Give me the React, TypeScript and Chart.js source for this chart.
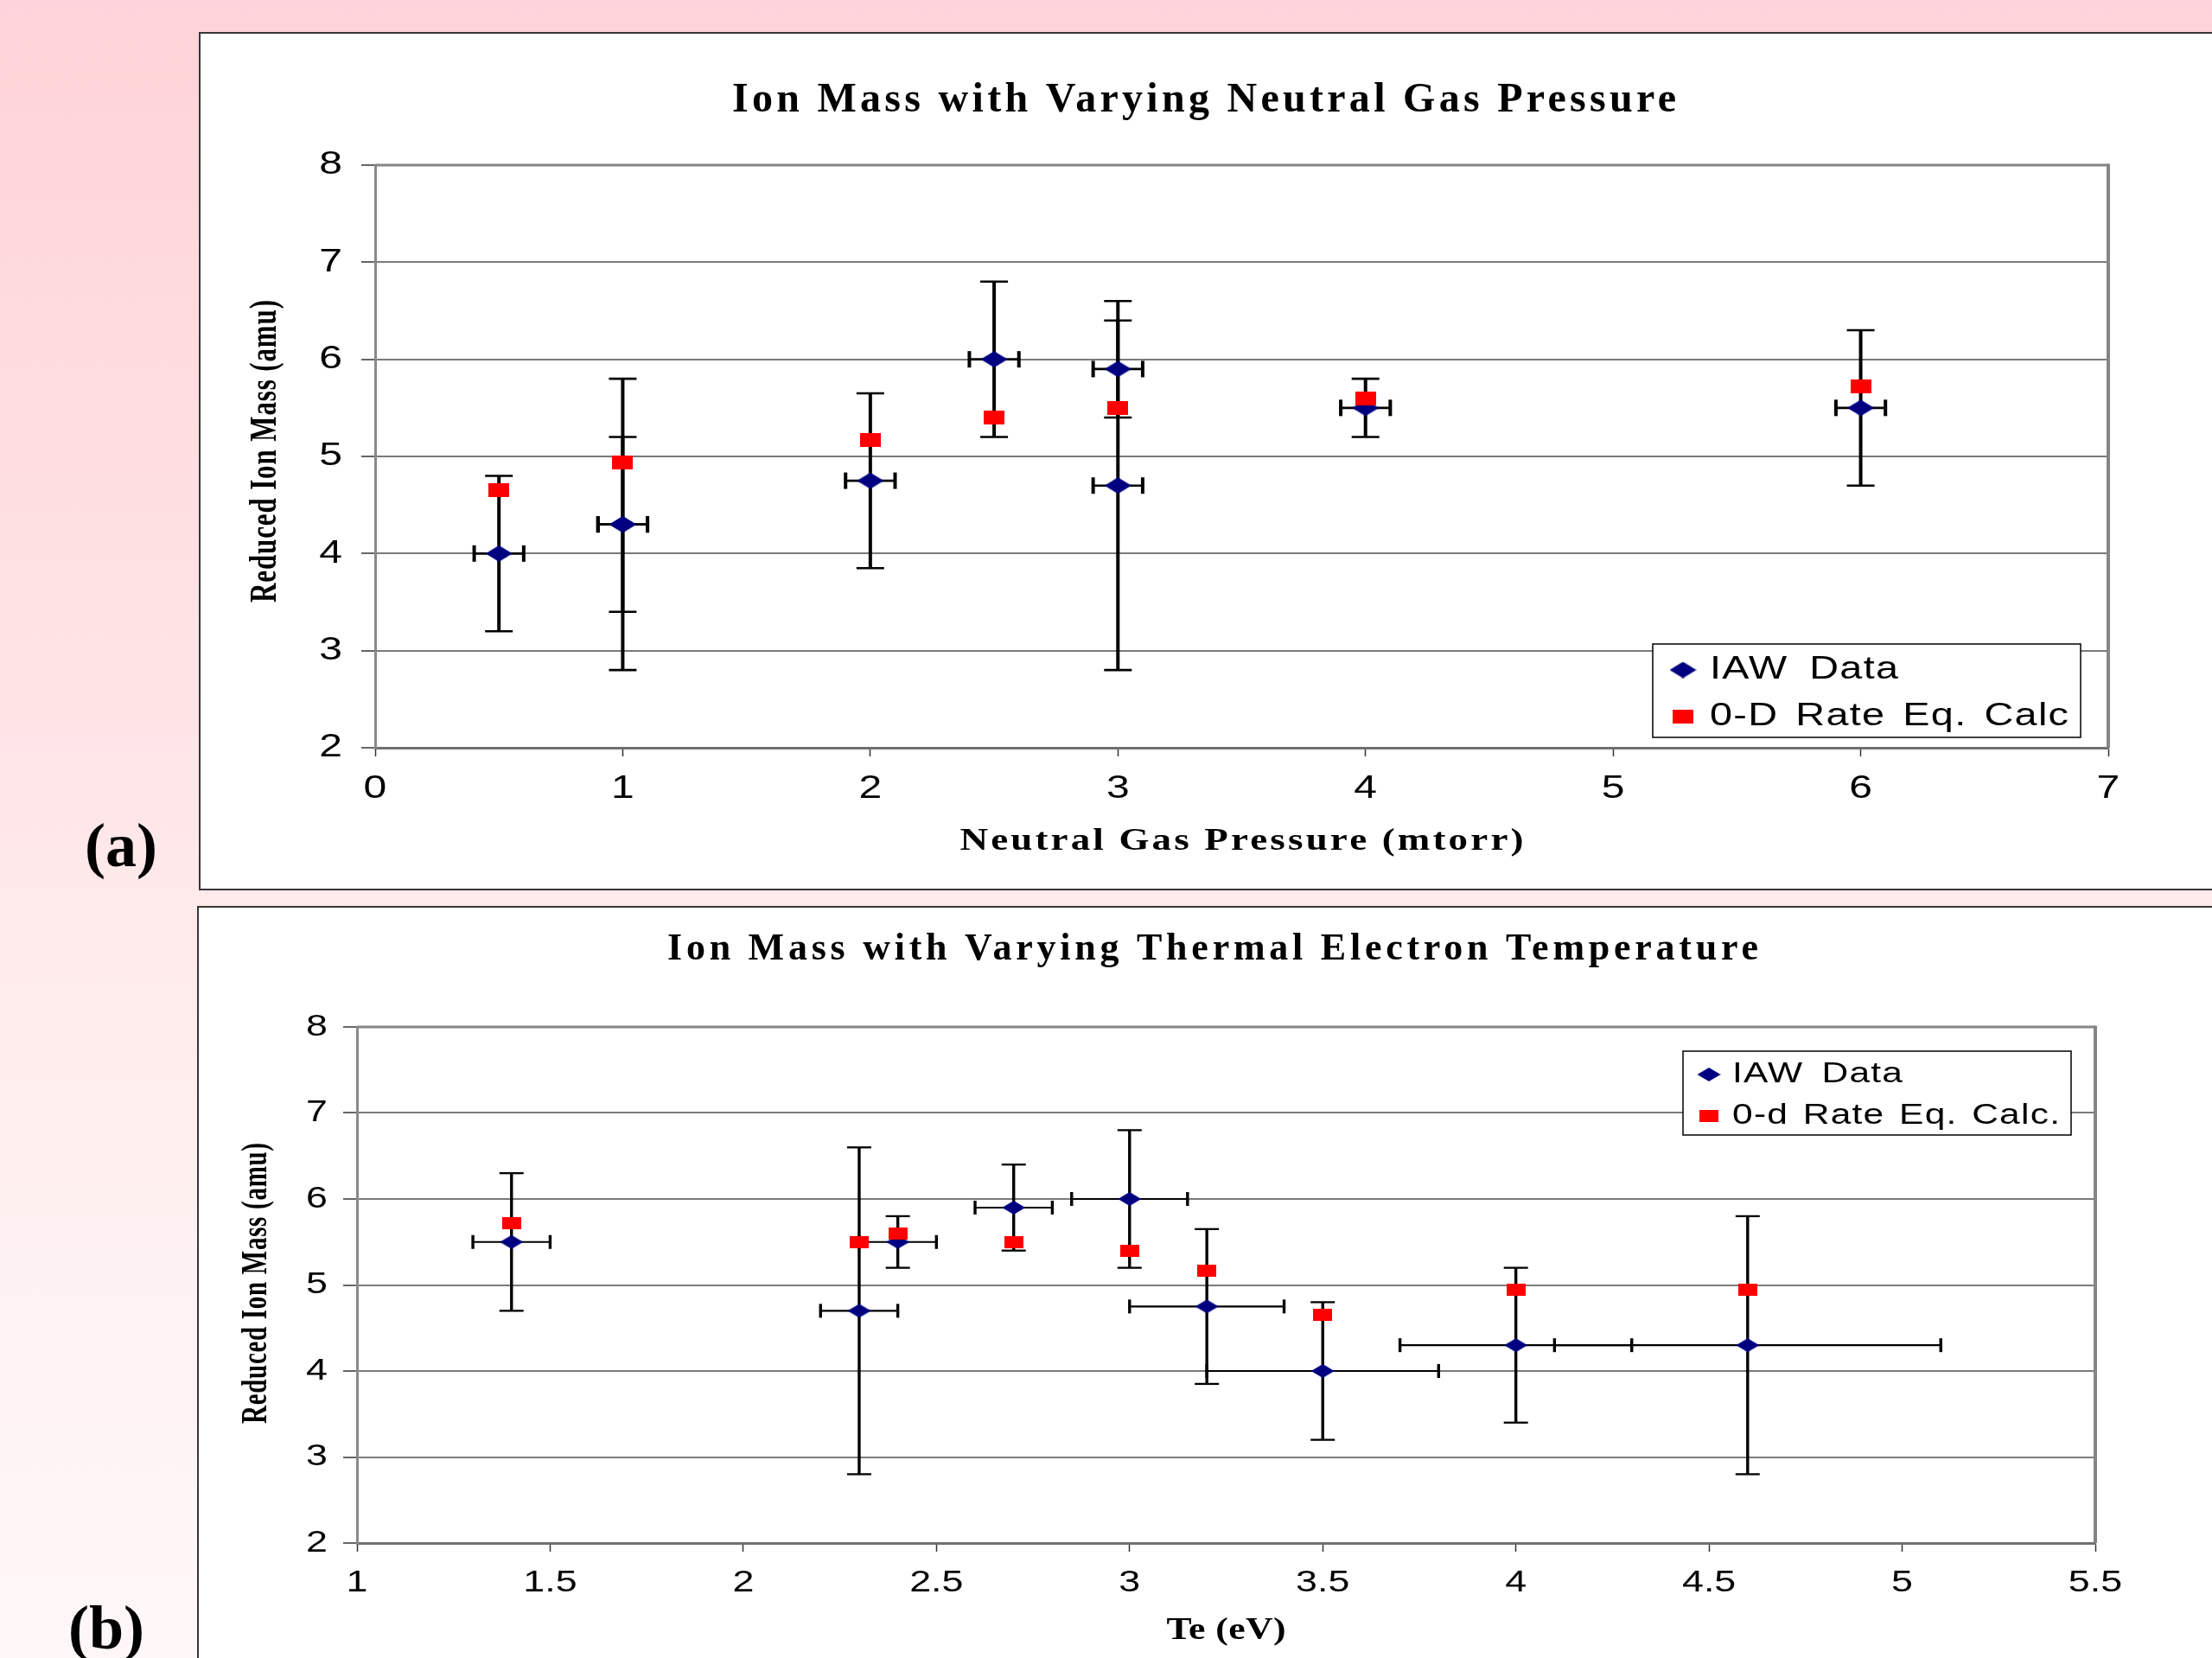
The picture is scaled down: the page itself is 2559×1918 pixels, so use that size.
import React, { useEffect, useRef } from 'react';
import { Chart, registerables } from 'chart.js';

Chart.register(...registerables);

// ---------- data: chart (a) ----------
const PRESSURE = [0.5, 1, 1, 2, 2.5, 3, 3, 4, 6];
const PRESSURE_ERR = [0.1, 0.1, 0.1, 0.1, 0.1, 0.1, 0.1, 0.1, 0.1];
const IAW_A = [4.0, 4.3, 4.3, 4.75, 6.0, 5.9, 4.7, 5.5, 5.5];
const IAW_A_ERR = [0.8, 1.5, 0.9, 0.9, 0.8, 0.5, 1.9, 0.3, 0.8];
const CALC_A = [4.65, 4.94, 4.94, 5.17, 5.4, 5.5, 5.5, 5.6, 5.72];
const X_TICKS_A = ['0', '1', '2', '3', '4', '5', '6', '7'];

// ---------- data: chart (b) ----------
const TE = [1.4, 2.3, 2.4, 2.7, 3.0, 3.2, 3.5, 4.0, 4.6];
const TE_ERR = [0.1, 0.1, 0.1, 0.1, 0.15, 0.2, 0.3, 0.3, 0.5];
const IAW_B = [5.5, 4.7, 5.5, 5.9, 6.0, 4.75, 4.0, 4.3, 4.3];
const IAW_B_ERR = [0.8, 1.9, 0.3, 0.5, 0.8, 0.9, 0.8, 0.9, 1.5];
const CALC_B = [5.72, 5.5, 5.6, 5.5, 5.4, 5.17, 4.65, 4.94, 4.94];
const X_TICKS_B = ['1', '1.5', '2', '2.5', '3', '3.5', '4', '4.5', '5', '5.5'];

const Y_TICKS = ['2', '3', '4', '5', '6', '7', '8'];

const TITLE_A = 'Ion Mass with Varying Neutral Gas Pressure';
const TITLE_B = 'Ion Mass with Varying Thermal Electron Temperature';
const X_TITLE_A = 'Neutral Gas Pressure (mtorr)';
const X_TITLE_B = 'Te (eV)';
const Y_TITLE = 'Reduced Ion Mass (amu)';
const LEGEND_A = ['IAW Data', '0-D Rate Eq. Calc'];
const LEGEND_B = ['IAW Data', '0-d Rate Eq. Calc.'];

const NAVY = '#000080';
const RED = '#ff0000';

type TextOpt = {
  font: string;
  sx?: number;
  width?: number;
  align?: 'left' | 'center' | 'right';
  baseline?: CanvasTextBaseline;
  rotate?: boolean;
  color?: string;
  wordFit?: boolean;
  ls?: number;
};

function drawText(ctx: CanvasRenderingContext2D, text: string, x: number, y: number, o: TextOpt) {
  ctx.save();
  ctx.font = o.font;
  ctx.fillStyle = o.color ?? '#000';
  ctx.textAlign = 'left';
  ctx.textBaseline = o.baseline ?? 'alphabetic';
  const c = ctx as any;
  const hasLS = 'letterSpacing' in c;
  if (hasLS) c.letterSpacing = '0px';
  if ('wordSpacing' in c) c.wordSpacing = '0px';
  const w0 = ctx.measureText(text).width;
  const chars = Array.from(text);
  const n = chars.length;
  const nSp = chars.filter((ch) => ch === ' ').length;
  const sx = o.sx ?? 1;
  let ls = 0;
  let ws = 0;
  if (o.width && n > 1 && hasLS) {
    if (o.wordFit && nSp > 0 && 'wordSpacing' in c) {
      ls = o.ls ?? 0;
      ws = (o.width / sx - w0 - ls * (n - 1)) / nSp;
      c.letterSpacing = ls + 'px';
      c.wordSpacing = ws + 'px';
    } else {
      ls = o.rotate ? (o.width - w0) / (n - 1) : (o.width / sx - w0) / (n - 1);
      c.letterSpacing = ls + 'px';
    }
  }
  const total = w0 + ls * (n - 1) + ws * nSp;
  const u0 = o.align === 'center' ? -total / 2 : o.align === 'right' ? -total : 0;
  ctx.translate(x, y);
  ctx.scale(sx, 1);
  if (o.rotate) ctx.rotate(-Math.PI / 2);
  ctx.fillText(text, u0, 0);
  ctx.restore();
}

function makeDiamond(w: number, h: number, color: string) {
  const c = document.createElement('canvas');
  c.width = w;
  c.height = h;
  const g = c.getContext('2d')!;
  g.fillStyle = color;
  g.beginPath();
  g.moveTo(w / 2, 0);
  g.lineTo(w, h / 2);
  g.lineTo(w / 2, h);
  g.lineTo(0, h / 2);
  g.closePath();
  g.fill();
  return c;
}

function makeRect(w: number, h: number, color: string) {
  const c = document.createElement('canvas');
  c.width = w;
  c.height = h;
  const g = c.getContext('2d')!;
  g.fillStyle = color;
  g.fillRect(0, 0, w, h);
  return c;
}

type Spec = {
  xVals: number[];
  xErr: number[];
  iaw: number[];
  iawErr: number[];
  calc: number[];
  xMin: number;
  xMax: number;
  xStep: number;
  xTicks: string[];
  title: string;
  xTitle: string;
  legend: string[];
  canvas: { left: number; top: number; width: number; height: number };
  padding: { left: number; right: number; top: number; bottom: number };
  diamond: [number, number];
  square: [number, number];
  eb: { vW: number; vCapW: number; vCap: number; hW: number; hCapW: number; hCap: number };
  titleText: { font: string; width: number; dx: number; dy: number };
  xTitleText: { font: string; width: number; sx: number; dy: number };
  yTitleText: { font: string; width: number; sx: number; dx: number; dy: number };
  tick: { font: string; sx: number; xDy: number; yDx: number };
  lg: {
    x: number; y: number; w: number; h: number;
    markX: number; textX: number; rowY: [number, number];
    font: string; sx: number; ls: number; widths: [number, number];
  };
};

const SPEC_A: Spec = {
  xVals: PRESSURE,
  xErr: PRESSURE_ERR,
  iaw: IAW_A,
  iawErr: IAW_A_ERR,
  calc: CALC_A,
  xMin: 0,
  xMax: 7,
  xStep: 1,
  xTicks: X_TICKS_A,
  title: TITLE_A,
  xTitle: X_TITLE_A,
  legend: LEGEND_A,
  canvas: { left: 232, top: 39, width: 2327, height: 989 },
  padding: { left: 142, right: 120, top: 152, bottom: 123 },
  diamond: [31, 19],
  square: [24, 16],
  eb: { vW: 4, vCapW: 2.6, vCap: 16, hW: 2.6, hCapW: 4, hCap: 9.5 },
  titleText: { font: 'bold 48px "Liberation Serif"', width: 1092, dx: 959, dy: -62 },
  xTitleText: { font: 'bold 36px "Liberation Serif"', width: 652, sx: 1.25, dy: 118 },
  yTitleText: { font: 'bold 31px "Liberation Serif"', width: 350, sx: 1.45, dx: -127, dy: -6 },
  tick: { font: '37px "Liberation Sans"', sx: 1.3, xDy: 48, yDx: 38 },
  lg: {
    x: 1478, y: 554, w: 495, h: 108,
    markX: 1513, textX: 1544, rowY: [584, 638],
    font: '36px "Liberation Sans"', sx: 1.3, ls: 1, widths: [218, 415],
  },
};

const SPEC_B: Spec = {
  xVals: TE,
  xErr: TE_ERR,
  iaw: IAW_B,
  iawErr: IAW_B_ERR,
  calc: CALC_B,
  xMin: 1,
  xMax: 5.5,
  xStep: 0.5,
  xTicks: X_TICKS_B,
  title: TITLE_B,
  xTitle: X_TITLE_B,
  legend: LEGEND_B,
  canvas: { left: 230, top: 1050, width: 2329, height: 868 },
  padding: { left: 123, right: 135, top: 138, bottom: 93 },
  diamond: [27, 16],
  square: [22, 14],
  eb: { vW: 3.4, vCapW: 2.3, vCap: 14, hW: 2.1, hCapW: 3.4, hCap: 8 },
  titleText: { font: 'bold 44px "Liberation Serif"', width: 1262, dx: 990, dy: -78 },
  xTitleText: { font: 'bold 35px "Liberation Serif"', width: 138, sx: 1.25, dy: 111 },
  yTitleText: { font: 'bold 29px "Liberation Serif"', width: 325, sx: 1.45, dx: -116, dy: -2 },
  tick: { font: '35px "Liberation Sans"', sx: 1.28, xDy: 46, yDx: 34 },
  lg: {
    x: 1534, y: 28, w: 449, h: 97,
    markX: 1564, textX: 1591, rowY: [55, 103],
    font: '34px "Liberation Sans"', sx: 1.25, ls: 1, widths: [197, 379],
  },
};

function line(ctx: CanvasRenderingContext2D, x1: number, y1: number, x2: number, y2: number) {
  ctx.beginPath();
  ctx.moveTo(x1, y1);
  ctx.lineTo(x2, y2);
  ctx.stroke();
}

function makeDecor(spec: Spec, dia: HTMLCanvasElement, sq: HTMLCanvasElement) {
  return {
    id: 'decor',
    beforeDatasetsDraw(chart: any) {
      const ctx: CanvasRenderingContext2D = chart.ctx;
      const area = chart.chartArea;
      const xs = chart.scales.x;
      const ys = chart.scales.y;
      ctx.save();
      // plot area top and right border
      ctx.strokeStyle = '#858585';
      ctx.lineWidth = 3;
      line(ctx, area.left, area.top, area.right, area.top);
      ctx.lineWidth = 4;
      line(ctx, area.right, area.top - 1.5, area.right, area.bottom);
      // error bars
      const eb = spec.eb;
      ctx.strokeStyle = '#000';
      ctx.lineCap = 'butt';
      spec.xVals.forEach((xv, i) => {
        const yv = spec.iaw[i];
        const px = xs.getPixelForValue(xv);
        const py = ys.getPixelForValue(yv);
        const yHi = ys.getPixelForValue(yv + spec.iawErr[i]);
        const yLo = ys.getPixelForValue(yv - spec.iawErr[i]);
        const xL = xs.getPixelForValue(xv - spec.xErr[i]);
        const xR = xs.getPixelForValue(xv + spec.xErr[i]);
        ctx.lineWidth = eb.vW;
        line(ctx, px, yHi, px, yLo);
        ctx.lineWidth = eb.vCapW;
        line(ctx, px - eb.vCap, yHi, px + eb.vCap, yHi);
        line(ctx, px - eb.vCap, yLo, px + eb.vCap, yLo);
        ctx.lineWidth = eb.hW;
        line(ctx, xL, py, xR, py);
        ctx.lineWidth = eb.hCapW;
        line(ctx, xL, py - eb.hCap, xL, py + eb.hCap);
        line(ctx, xR, py - eb.hCap, xR, py + eb.hCap);
      });
      ctx.restore();
    },
    afterDraw(chart: any) {
      const ctx: CanvasRenderingContext2D = chart.ctx;
      const area = chart.chartArea;
      const xs = chart.scales.x;
      const ys = chart.scales.y;
      // tick labels
      xs.ticks.forEach((t: any, i: number) => {
        drawText(ctx, String(t.label), xs.getPixelForTick(i), area.bottom + spec.tick.xDy, {
          font: spec.tick.font, sx: spec.tick.sx, align: 'center', baseline: 'middle',
        });
      });
      ys.ticks.forEach((t: any, i: number) => {
        drawText(ctx, String(t.label), area.left - spec.tick.yDx, ys.getPixelForTick(i), {
          font: spec.tick.font, sx: spec.tick.sx, align: 'right', baseline: 'middle',
        });
      });
      // titles
      drawText(ctx, spec.title, area.left + spec.titleText.dx, area.top + spec.titleText.dy, {
        font: spec.titleText.font, width: spec.titleText.width, align: 'center',
      });
      drawText(ctx, spec.xTitle, (area.left + area.right) / 2, area.bottom + spec.xTitleText.dy, {
        font: spec.xTitleText.font, width: spec.xTitleText.width, sx: spec.xTitleText.sx, align: 'center',
      });
      drawText(ctx, Y_TITLE, area.left + spec.yTitleText.dx, (area.top + area.bottom) / 2 + spec.yTitleText.dy, {
        font: spec.yTitleText.font, width: spec.yTitleText.width, sx: spec.yTitleText.sx,
        align: 'center', baseline: 'middle', rotate: true,
      });
      // legend
      const lg = spec.lg;
      const bx = area.left + lg.x;
      const by = area.top + lg.y;
      ctx.save();
      ctx.fillStyle = '#fff';
      ctx.fillRect(bx, by, lg.w, lg.h);
      ctx.strokeStyle = '#000';
      ctx.lineWidth = 1.5;
      ctx.strokeRect(bx, by, lg.w, lg.h);
      const marks = [dia, sq];
      spec.legend.forEach((label, i) => {
        const my = area.top + lg.rowY[i];
        const mx = area.left + lg.markX;
        const m = marks[i];
        ctx.drawImage(m, mx - m.width / 2, my - m.height / 2);
        drawText(ctx, label, area.left + lg.textX, my, {
          font: lg.font, sx: lg.sx, width: lg.widths[i], align: 'left', baseline: 'middle',
          wordFit: true, ls: lg.ls,
        });
      });
      ctx.restore();
    },
  };
}

function ErrChart({ spec }: { spec: Spec }) {
  const ref = useRef<HTMLCanvasElement | null>(null);
  useEffect(() => {
    if (!ref.current) return;
    const dia = makeDiamond(spec.diamond[0], spec.diamond[1], NAVY);
    const sq = makeRect(spec.square[0], spec.square[1], RED);
    const chart = new Chart(ref.current, {
      type: 'scatter',
      data: {
        datasets: [
          {
            label: spec.legend[0],
            data: spec.xVals.map((x, i) => ({ x, y: spec.iaw[i] })),
            pointStyle: dia as any,
            pointRadius: 8,
            backgroundColor: NAVY,
            borderColor: NAVY,
            showLine: false,
            order: 1,
          },
          {
            label: spec.legend[1],
            data: spec.xVals.map((x, i) => ({ x, y: spec.calc[i] })),
            pointStyle: sq as any,
            pointRadius: 8,
            backgroundColor: RED,
            borderColor: RED,
            showLine: false,
            order: 0,
          },
        ],
      },
      options: {
        animation: false,
        responsive: false,
        devicePixelRatio: 1,
        events: [],
        layout: { padding: spec.padding },
        plugins: {
          legend: { display: false },
          title: { display: false },
          tooltip: { enabled: false },
        },
        scales: {
          x: {
            type: 'linear',
            min: spec.xMin,
            max: spec.xMax,
            ticks: {
              stepSize: spec.xStep,
              display: false,
              callback: (v: any, i: number) => spec.xTicks[i] ?? String(v),
            },
            grid: { drawOnChartArea: false, tickLength: 10, tickColor: '#333', tickWidth: 1.5 },
            border: { color: '#707070', width: 3 },
            afterFit: (s: any) => { s.height = 40; },
          },
          y: {
            type: 'linear',
            min: 2,
            max: 8,
            ticks: {
              stepSize: 1,
              display: false,
              callback: (v: any, i: number) => Y_TICKS[i] ?? String(v),
            },
            grid: { color: '#7a7a7a', lineWidth: 2, tickLength: 16, tickColor: '#333', tickWidth: 1.5 },
            border: { color: '#8a8a8a', width: 3 },
            afterFit: (s: any) => { s.width = 60; },
          },
        },
      } as any,
      plugins: [makeDecor(spec, dia, sq) as any],
    });
    return () => chart.destroy();
  }, [spec]);
  const c = spec.canvas;
  return (
    <canvas
      ref={ref}
      width={c.width}
      height={c.height}
      style={{ position: 'absolute', left: c.left, top: c.top, width: c.width, height: c.height }}
    />
  );
}

export default function App() {
  const labelStyle: React.CSSProperties = {
    position: 'absolute',
    font: 'bold 72px "Liberation Serif"',
    lineHeight: '72px',
    color: '#000',
    whiteSpace: 'nowrap',
  };
  return (
    <div
      style={{
        position: 'fixed',
        left: 0,
        top: 0,
        width: 2559,
        height: 1918,
        overflow: 'hidden',
        background: 'linear-gradient(180deg, #ffd3d7 0%, #ffe3e5 40%, #fff0f0 70%, #fff7f7 100%)',
      }}
    >
      <div
        style={{
          position: 'absolute', left: 230, top: 37, width: 2400, height: 993,
          boxSizing: 'border-box', border: '2px solid #3a3535', background: '#fff',
        }}
      />
      <div
        style={{
          position: 'absolute', left: 228, top: 1048, width: 2400, height: 1000,
          boxSizing: 'border-box', border: '2px solid #3a3535', background: '#fff',
        }}
      />
      <ErrChart spec={SPEC_A} />
      <ErrChart spec={SPEC_B} />
      <div style={{ ...labelStyle, left: 98, top: 942 }}>(a)</div>
      <div style={{ ...labelStyle, left: 79, top: 1847 }}>(b)</div>
    </div>
  );
}
